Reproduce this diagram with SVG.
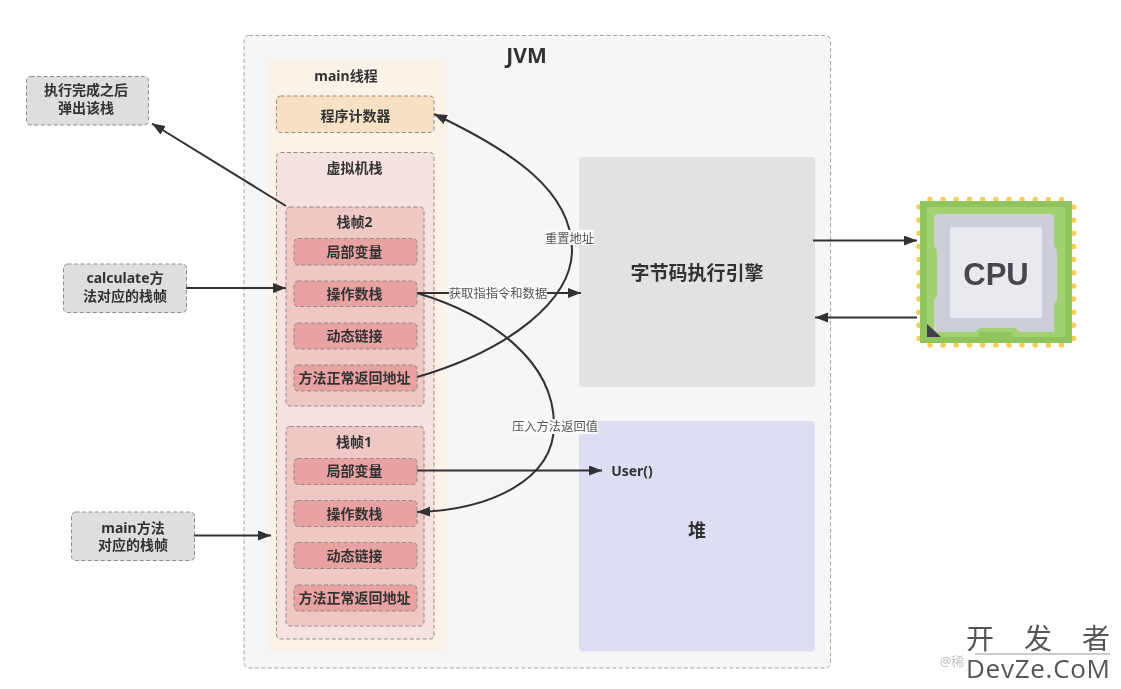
<svg xmlns="http://www.w3.org/2000/svg" width="1121" height="689" viewBox="0 0 1121 689">
<style>
text{font-family:"Noto Sans","Noto Sans CJK SC",sans-serif;fill:#333;text-anchor:middle}
.b{font-weight:700;font-size:14px}
.box{stroke:#8f8a8a;stroke-width:1;stroke-dasharray:4 2.5}
.gray{fill:#dfdede}
.inner{fill:#e8a2a2}
.frame{fill:#efc7c5}
.lbl{font-size:12.3px;fill:#555}
.lblbg{fill:#fafafa}
.c{fill:none;stroke:#333;stroke-width:2}
.dots{fill:none;stroke:#f5cf55;stroke-width:5.500;stroke-linecap:round;stroke-dasharray:0 13.15}
</style>
<defs>
<marker id="arr" markerUnits="userSpaceOnUse" markerWidth="14" markerHeight="11" refX="13" refY="5" orient="auto"><path d="M0,0L13,5L0,10z" fill="#333"/></marker>
<filter id="soft" x="-2%" y="-2%" width="104%" height="104%"><feGaussianBlur stdDeviation="0.45"/></filter>
</defs>
<rect width="1121" height="689" fill="#fff"/>
<g filter="url(#soft)">
<g id="jvm"><rect x="244" y="35.500" width="586.500" height="632.500" rx="5" fill="#f7f6f7" stroke="#a5a5a5" stroke-dasharray="4 2.5"/><text x="526.500" y="63" font-size="21" font-weight="700">JVM</text></g>
<g id="main-thread"><rect x="269" y="59" width="177" height="592" fill="#fbf3e7"/><text class="b" x="346" y="81">main线程</text></g>
<g id="pc"><rect class="box" x="276.500" y="96" width="157.500" height="36.500" rx="4" fill="#f6e1c4"/><text class="b" x="355.500" y="121">程序计数器</text></g>
<g id="vm-stack"><rect class="box" x="276.500" y="152.500" width="157.500" height="486.500" rx="4" fill="#f6e3e0"/><text class="b" x="354.500" y="173">虚拟机栈</text></g>
<g id="frame2"><rect class="box frame" x="286" y="207" width="138" height="199" rx="4"/><text class="b" x="354.500" y="227">栈帧2</text></g>
<g id="f2-locals"><rect class="box inner" x="294" y="238.500" width="123" height="26.500" rx="4"/><text class="b" x="354.500" y="257">局部变量</text></g>
<g id="f2-ops"><rect class="box inner" x="294" y="281" width="123" height="25.500" rx="4"/><text class="b" x="354.500" y="299">操作数栈</text></g>
<g id="f2-link"><rect class="box inner" x="294" y="323" width="123" height="26" rx="4"/><text class="b" x="354.500" y="341">动态链接</text></g>
<g id="f2-ret"><rect class="box inner" x="294" y="365" width="123" height="26" rx="4"/><text class="b" x="354.500" y="383">方法正常返回地址</text></g>
<g id="frame1"><rect class="box frame" x="286" y="426.500" width="138" height="199.500" rx="4"/><text class="b" x="354" y="447">栈帧1</text></g>
<g id="f1-locals"><rect class="box inner" x="294" y="458.500" width="123" height="26" rx="4"/><text class="b" x="354.500" y="476">局部变量</text></g>
<g id="f1-ops"><rect class="box inner" x="294" y="500.500" width="123" height="26" rx="4"/><text class="b" x="354.500" y="519">操作数栈</text></g>
<g id="f1-link"><rect class="box inner" x="294" y="542.500" width="123" height="26" rx="4"/><text class="b" x="354.500" y="561">动态链接</text></g>
<g id="f1-ret"><rect class="box inner" x="294" y="585" width="123" height="26" rx="4"/><text class="b" x="354.500" y="603">方法正常返回地址</text></g>
<g id="engine"><rect x="579" y="157" width="236" height="230" rx="3" fill="#e4e2e0"/><text x="697" y="280" font-size="19" font-weight="700">字节码执行引擎</text></g>
<g id="heap"><rect x="579" y="421" width="236" height="230.500" rx="4" fill="#dddef3"/><text x="697" y="537" font-size="18" font-weight="700">堆</text><text x="632" y="476" font-size="14" font-weight="700">User()</text></g>
<g id="note-pop"><rect class="box gray" x="26.500" y="76.500" width="122" height="48.500" rx="4"/><text class="b" x="86" y="95">执行完成之后</text><text class="b" x="86" y="113">弹出该栈</text></g>
<g id="note-calc"><rect class="box gray" x="63.500" y="264" width="123" height="48.500" rx="4"/><text class="b" x="125" y="283">calculate方</text><text class="b" x="125" y="301">法对应的栈帧</text></g>
<g id="note-main"><rect class="box gray" x="71.500" y="512" width="123" height="48.500" rx="4"/><text class="b" x="133" y="533">main方法</text><text class="b" x="133" y="550">对应的栈帧</text></g>
<g id="cpu">
<path class="dots" d="M930,199.500H1068M930,345H1068M919,207V342M1073.500,207V342"/>
<rect x="920" y="201" width="152" height="142" fill="#8fc45f"/>
<rect x="927" y="207" width="138" height="130" fill="#a3d06f"/>
<path d="M938,214H1050Q1054,214 1054,218V246L1057,250V300L1054,304V332H1020L1015,328H980L975,332H938Q934,332 934,328V300L937,296V250L934,246V218Q934,214 938,214z" fill="#cccfd8"/>
<rect x="950" y="227" width="92" height="91" rx="2" fill="#e8eaf0"/>
<path d="M979,332H1012V337H979z" fill="#8fc45f"/>
<path d="M927,324L941,337H927z" fill="#3f4150"/>
<text x="996" y="285" font-size="31" font-weight="700" style="font-family:'Liberation Sans',sans-serif;fill:#45464d">CPU</text>
</g>
<g id="connectors">
<path class="c" d="M286,206L152,123.500" marker-end="url(#arr)"/>
<path class="c" d="M186,288H286" marker-end="url(#arr)"/>
<path class="c" d="M194,535.500H271" marker-end="url(#arr)"/>
<path class="c" d="M417,293H581" marker-end="url(#arr)"/>
<path class="c" d="M417,377C510,350 572,300 572,250C572,190 510,150 434,114" marker-end="url(#arr)"/>
<path class="c" d="M417,293C490,315 554,360 554,425C554,480 490,510 417,512" marker-end="url(#arr)"/>
<path class="c" d="M417,470.500H602" marker-end="url(#arr)"/>
<path class="c" d="M813,240.500H917" marker-end="url(#arr)"/>
<path class="c" d="M917,317.500H815" marker-end="url(#arr)"/>
</g>
<g id="edge-labels">
<rect class="lblbg" x="545" y="230" width="49" height="15"/><text class="lbl" x="569.500" y="242.500">重置地址</text>
<rect class="lblbg" x="449" y="286" width="98" height="15"/><text class="lbl" x="498" y="298">获取指指令和数据</text>
<rect class="lblbg" x="512" y="419" width="86" height="15"/><text class="lbl" x="555" y="431">压入方法返回值</text>
</g>
<g id="watermark">
<text x="952" y="666" font-size="13" style="fill:#c4c4c4">@稀</text>
<path d="M975,654H1110" stroke="#999" stroke-width="1"/>
<text x="966" y="649" font-size="28" textLength="144" style="fill:#555;font-family:'Noto Sans CJK SC',sans-serif;text-anchor:start">开 发 者</text>
<text x="966" y="678" font-size="26" textLength="144" style="fill:#555;font-family:'Open Sans',sans-serif;text-anchor:start">DevZe.CoM</text>
</g>
</g>
</svg>
